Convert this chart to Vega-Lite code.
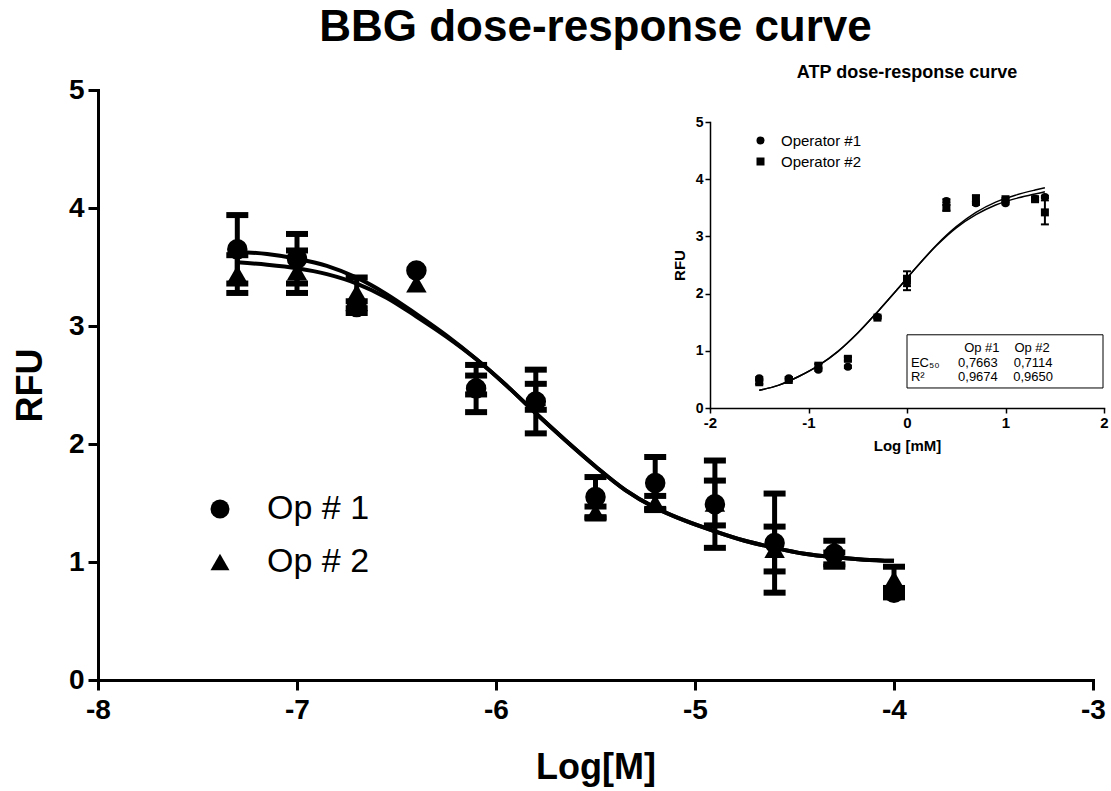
{
  "$schema": "https://vega.github.io/schema/vega-lite/v6.json",
  "width": 995,
  "height": 590,
  "autosize": {"type": "none"},
  "padding": {"left": 98, "top": 90, "right": 18, "bottom": 111},
  "background": "white",
  "title": {"text": "BBG dose-response curve", "fontSize": 44, "fontWeight": "bold", "font": "Liberation Sans", "color": "black", "anchor": "middle", "offset": 14},
  "config": {
    "font": "Liberation Sans",
    "view": {"stroke": null},
    "axis": {"grid": false, "labelFlush": false, "labelOverlap": false, "domainColor": "black", "tickColor": "black", "labelColor": "black", "titleColor": "black", "labelFont": "Liberation Sans", "titleFont": "Liberation Sans", "labelFontWeight": "bold", "titleFontWeight": "bold", "domainCap": "square", "labelExpr": "datum.value < 0 ? '-' + abs(datum.value) : '' + datum.value"},
    "legend": {"labelFont": "Liberation Sans", "labelColor": "black", "padding": 0}
  },
  "datasets": {
    "mainCurve": [
      {"x": -7.3, "y": 3.63, "op": "Op # 1"}, {"x": -7.15, "y": 3.61, "op": "Op # 1"}, {"x": -7.0, "y": 3.57, "op": "Op # 1"}, {"x": -6.85, "y": 3.51, "op": "Op # 1"}, {"x": -6.7, "y": 3.41, "op": "Op # 1"}, {"x": -6.55, "y": 3.27, "op": "Op # 1"}, {"x": -6.4, "y": 3.10, "op": "Op # 1"}, {"x": -6.25, "y": 2.92, "op": "Op # 1"}, {"x": -6.1, "y": 2.72, "op": "Op # 1"}, {"x": -5.95, "y": 2.50, "op": "Op # 1"}, {"x": -5.8, "y": 2.26, "op": "Op # 1"}, {"x": -5.65, "y": 2.03, "op": "Op # 1"}, {"x": -5.5, "y": 1.81, "op": "Op # 1"}, {"x": -5.35, "y": 1.61, "op": "Op # 1"}, {"x": -5.2, "y": 1.46, "op": "Op # 1"}, {"x": -5.05, "y": 1.35, "op": "Op # 1"}, {"x": -4.9, "y": 1.26, "op": "Op # 1"}, {"x": -4.75, "y": 1.18, "op": "Op # 1"}, {"x": -4.6, "y": 1.12, "op": "Op # 1"}, {"x": -4.45, "y": 1.07, "op": "Op # 1"}, {"x": -4.3, "y": 1.04, "op": "Op # 1"}, {"x": -4.15, "y": 1.02, "op": "Op # 1"}, {"x": -4.0, "y": 1.01, "op": "Op # 1"},
      {"x": -7.3, "y": 3.54, "op": "Op # 2"}, {"x": -7.15, "y": 3.52, "op": "Op # 2"}, {"x": -7.0, "y": 3.49, "op": "Op # 2"}, {"x": -6.85, "y": 3.44, "op": "Op # 2"}, {"x": -6.7, "y": 3.36, "op": "Op # 2"}, {"x": -6.55, "y": 3.24, "op": "Op # 2"}, {"x": -6.4, "y": 3.08, "op": "Op # 2"}, {"x": -6.25, "y": 2.91, "op": "Op # 2"}, {"x": -6.1, "y": 2.72, "op": "Op # 2"}, {"x": -5.95, "y": 2.50, "op": "Op # 2"}, {"x": -5.8, "y": 2.26, "op": "Op # 2"}, {"x": -5.65, "y": 2.03, "op": "Op # 2"}, {"x": -5.5, "y": 1.81, "op": "Op # 2"}, {"x": -5.35, "y": 1.61, "op": "Op # 2"}, {"x": -5.2, "y": 1.46, "op": "Op # 2"}, {"x": -5.05, "y": 1.35, "op": "Op # 2"}, {"x": -4.9, "y": 1.26, "op": "Op # 2"}, {"x": -4.75, "y": 1.18, "op": "Op # 2"}, {"x": -4.6, "y": 1.12, "op": "Op # 2"}, {"x": -4.45, "y": 1.07, "op": "Op # 2"}, {"x": -4.3, "y": 1.04, "op": "Op # 2"}, {"x": -4.15, "y": 1.02, "op": "Op # 2"}, {"x": -4.0, "y": 1.01, "op": "Op # 2"}
    ],
    "mainPoints": [
      {"x": -7.3, "y": 3.65, "e": 0.29, "op": "Op # 1"}, {"x": -7.0, "y": 3.57, "e": 0.21, "op": "Op # 1"}, {"x": -6.7, "y": 3.16, "e": 0.05, "op": "Op # 1"}, {"x": -6.4, "y": 3.47, "e": 0, "op": "Op # 1"}, {"x": -6.1, "y": 2.47, "e": 0.20, "op": "Op # 1"}, {"x": -5.8, "y": 2.36, "e": 0.27, "op": "Op # 1"}, {"x": -5.5, "y": 1.55, "e": 0.17, "op": "Op # 1"}, {"x": -5.2, "y": 1.67, "e": 0.22, "op": "Op # 1"}, {"x": -4.9, "y": 1.49, "e": 0.37, "op": "Op # 1"}, {"x": -4.6, "y": 1.16, "e": 0.42, "op": "Op # 1"}, {"x": -4.3, "y": 1.07, "e": 0.11, "op": "Op # 1"}, {"x": -4.0, "y": 0.74, "e": 0.04, "op": "Op # 1"},
      {"x": -7.3, "y": 3.44, "e": 0.16, "op": "Op # 2"}, {"x": -7.0, "y": 3.46, "e": 0.18, "op": "Op # 2"}, {"x": -6.7, "y": 3.28, "e": 0.13, "op": "Op # 2"}, {"x": -6.4, "y": 3.36, "e": 0, "op": "Op # 2"}, {"x": -6.1, "y": 2.50, "e": 0.08, "op": "Op # 2"}, {"x": -5.8, "y": 2.40, "e": 0.11, "op": "Op # 2"}, {"x": -5.5, "y": 1.42, "e": 0.05, "op": "Op # 2"}, {"x": -5.2, "y": 1.50, "e": 0.06, "op": "Op # 2"}, {"x": -4.9, "y": 1.50, "e": 0.19, "op": "Op # 2"}, {"x": -4.6, "y": 1.11, "e": 0.19, "op": "Op # 2"}, {"x": -4.3, "y": 1.03, "e": 0.05, "op": "Op # 2"}, {"x": -4.0, "y": 0.85, "e": 0.11, "op": "Op # 2"}
    ],
    "insetCurve": [
      {"x": -1.5, "y": 0.31, "op": "A"}, {"x": -1.3, "y": 0.40, "op": "A"}, {"x": -1.1, "y": 0.55, "op": "A"}, {"x": -0.9, "y": 0.74, "op": "A"}, {"x": -0.7, "y": 0.99, "op": "A"}, {"x": -0.5, "y": 1.31, "op": "A"}, {"x": -0.3, "y": 1.68, "op": "A"}, {"x": -0.1, "y": 2.07, "op": "A"}, {"x": 0.1, "y": 2.47, "op": "A"}, {"x": 0.3, "y": 2.85, "op": "A"}, {"x": 0.5, "y": 3.17, "op": "A"}, {"x": 0.7, "y": 3.42, "op": "A"}, {"x": 0.9, "y": 3.60, "op": "A"}, {"x": 1.1, "y": 3.72, "op": "A"}, {"x": 1.3, "y": 3.81, "op": "A"}, {"x": 1.4, "y": 3.85, "op": "A"},
      {"x": -1.5, "y": 0.31, "op": "B"}, {"x": -1.3, "y": 0.40, "op": "B"}, {"x": -1.1, "y": 0.55, "op": "B"}, {"x": -0.9, "y": 0.74, "op": "B"}, {"x": -0.7, "y": 0.99, "op": "B"}, {"x": -0.5, "y": 1.31, "op": "B"}, {"x": -0.3, "y": 1.68, "op": "B"}, {"x": -0.1, "y": 2.07, "op": "B"}, {"x": 0.1, "y": 2.47, "op": "B"}, {"x": 0.3, "y": 2.84, "op": "B"}, {"x": 0.5, "y": 3.15, "op": "B"}, {"x": 0.7, "y": 3.38, "op": "B"}, {"x": 0.9, "y": 3.55, "op": "B"}, {"x": 1.1, "y": 3.66, "op": "B"}, {"x": 1.3, "y": 3.74, "op": "B"}, {"x": 1.4, "y": 3.78, "op": "B"}
    ],
    "insetPoints": [
      {"x": -1.5, "y": 0.52, "e": 0.02, "op": "Operator #1"}, {"x": -1.2, "y": 0.52, "e": 0.02, "op": "Operator #1"}, {"x": -0.9, "y": 0.67, "e": 0.02, "op": "Operator #1"}, {"x": -0.6, "y": 0.72, "e": 0.02, "op": "Operator #1"}, {"x": -0.3, "y": 1.59, "e": 0.02, "op": "Operator #1"}, {"x": 0.0, "y": 2.18, "e": 0.12, "op": "Operator #1"}, {"x": 0.4, "y": 3.62, "e": 0.03, "op": "Operator #1"}, {"x": 0.7, "y": 3.58, "e": 0.03, "op": "Operator #1"}, {"x": 1.0, "y": 3.58, "e": 0.02, "op": "Operator #1"}, {"x": 1.3, "y": 3.66, "e": 0.02, "op": "Operator #1"}, {"x": 1.4, "y": 3.69, "e": 0.02, "op": "Operator #1"},
      {"x": -1.5, "y": 0.45, "e": 0.03, "op": "Operator #2"}, {"x": -1.2, "y": 0.49, "e": 0.02, "op": "Operator #2"}, {"x": -0.9, "y": 0.74, "e": 0.03, "op": "Operator #2"}, {"x": -0.6, "y": 0.86, "e": 0.03, "op": "Operator #2"}, {"x": -0.3, "y": 1.58, "e": 0.02, "op": "Operator #2"}, {"x": 0.0, "y": 2.26, "e": 0.13, "op": "Operator #2"}, {"x": 0.4, "y": 3.50, "e": 0.05, "op": "Operator #2"}, {"x": 0.7, "y": 3.66, "e": 0.06, "op": "Operator #2"}, {"x": 1.0, "y": 3.65, "e": 0.02, "op": "Operator #2"}, {"x": 1.3, "y": 3.65, "e": 0.03, "op": "Operator #2"}, {"x": 1.4, "y": 3.42, "e": 0.21, "op": "Operator #2"}
    ],
    "insetTable": [
      {"x": 0.76, "y": 1.05, "t": "Op #1", "a": "center"}, {"x": 1.27, "y": 1.05, "t": "Op #2", "a": "center"},
      {"x": 0.04, "y": 0.79, "t": "EC₅₀", "a": "left"}, {"x": 0.72, "y": 0.79, "t": "0,7663", "a": "center"}, {"x": 1.28, "y": 0.79, "t": "0,7114", "a": "center"},
      {"x": 0.04, "y": 0.54, "t": "R²", "a": "left"}, {"x": 0.72, "y": 0.54, "t": "0,9674", "a": "center"}, {"x": 1.28, "y": 0.54, "t": "0,9650", "a": "center"}
    ],
    "insetBox": [{"x": 0.0, "x2": 1.99, "y": 0.35, "y2": 1.28}],
    "insetTitle": [{"x": 0.0, "y": 5.86, "t": "ATP dose-response curve"}]
  },
  "layer": [
    {
      "layer": [
        {
          "data": {"name": "mainCurve"},
          "mark": {"type": "line", "color": "black", "strokeWidth": 4, "interpolate": "monotone"},
          "encoding": {
            "x": {"field": "x", "type": "quantitative", "title": "Log[M]", "scale": {"domain": [-8, -3], "nice": false, "zero": false},
              "axis": {"orient": "bottom", "values": [-8, -7, -6, -5, -4, -3], "tickSize": 10, "tickWidth": 3, "domainWidth": 3, "labelFontSize": 28, "labelPadding": 6, "title": "Log[M]", "titleFontSize": 36, "titlePadding": 26}},
            "y": {"field": "y", "type": "quantitative", "title": "RFU", "scale": {"domain": [0, 5], "nice": false, "zero": false},
              "axis": {"orient": "left", "values": [0, 1, 2, 3, 4, 5], "tickSize": 10, "tickWidth": 3, "domainWidth": 3, "labelFontSize": 28, "labelPadding": 4, "title": "RFU", "titleFontSize": 36, "titlePadding": 19}},
            "detail": {"field": "op"}
          }
        },
        {
          "data": {"name": "mainPoints"},
          "transform": [{"filter": "datum.e > 0"}],
          "mark": {"type": "errorbar", "color": "black", "opacity": 1, "ticks": {"size": 22, "thickness": 6, "color": "black", "opacity": 1}, "rule": {"strokeWidth": 5, "color": "black", "opacity": 1}},
          "encoding": {
            "x": {"field": "x", "type": "quantitative", "title": "Log[M]"},
            "y": {"field": "y", "type": "quantitative", "title": "RFU"},
            "yError": {"field": "e"},
            "detail": {"field": "op"}
          }
        },
        {
          "data": {"name": "mainPoints"},
          "mark": {"type": "point", "filled": true, "opacity": 1, "color": "black", "size": 420},
          "encoding": {
            "x": {"field": "x", "type": "quantitative", "title": "Log[M]"},
            "y": {"field": "y", "type": "quantitative", "title": "RFU"},
            "shape": {"field": "op", "type": "nominal", "scale": {"domain": ["Op # 1", "Op # 2"], "range": ["circle", "triangle-up"]},
              "legend": {"orient": "none", "legendX": 105, "legendY": 402, "title": null, "labelFontSize": 34, "symbolSize": 360, "symbolFillColor": "black", "symbolStrokeColor": "black", "symbolStrokeWidth": 0, "labelOffset": 30, "rowPadding": 19}}
          }
        }
      ]
    },
    {
      "layer": [
        {
          "data": {"name": "insetBox"},
          "mark": {"type": "rect", "fill": null, "stroke": "black", "strokeWidth": 1},
          "encoding": {
            "x": {"field": "x", "type": "quantitative", "title": "Log [mM]", "scale": {"domain": [-2, 2], "range": [612, 1006], "nice": false, "zero": false},
              "axis": {"orient": "bottom", "offset": -272, "values": [-2, -1, 0, 1, 2], "tickSize": 5, "tickWidth": 1.5, "domainWidth": 1.5, "labelFontSize": 15, "labelPadding": 2, "title": "Log [mM]", "titleFontSize": 15, "titlePadding": 8}},
            "x2": {"field": "x2"},
            "y": {"field": "y", "type": "quantitative", "title": "RFU", "scale": {"domain": [0, 5], "range": [318, 32], "nice": false, "zero": false},
              "axis": {"orient": "left", "offset": -612, "values": [0, 1, 2, 3, 4, 5], "tickSize": 5, "tickWidth": 1.5, "domainWidth": 1.5, "labelFontSize": 14, "labelPadding": 2, "title": "RFU", "titleFontSize": 15, "titlePadding": 8}},
            "y2": {"field": "y2"}
          }
        },
        {
          "data": {"name": "insetCurve"},
          "mark": {"type": "line", "color": "black", "strokeWidth": 1.5, "interpolate": "monotone"},
          "encoding": {
            "x": {"field": "x", "type": "quantitative", "title": "Log [mM]"},
            "y": {"field": "y", "type": "quantitative", "title": "RFU"},
            "detail": {"field": "op"}
          }
        },
        {
          "data": {"name": "insetPoints"},
          "mark": {"type": "errorbar", "color": "black", "opacity": 1, "ticks": {"size": 8, "thickness": 2, "color": "black", "opacity": 1}, "rule": {"strokeWidth": 2, "color": "black", "opacity": 1}},
          "encoding": {
            "x": {"field": "x", "type": "quantitative", "title": "Log [mM]"},
            "y": {"field": "y", "type": "quantitative", "title": "RFU"},
            "yError": {"field": "e"},
            "detail": {"field": "op"}
          }
        },
        {
          "data": {"name": "insetPoints"},
          "mark": {"type": "point", "filled": true, "opacity": 1, "color": "black", "size": 64},
          "encoding": {
            "x": {"field": "x", "type": "quantitative", "title": "Log [mM]"},
            "y": {"field": "y", "type": "quantitative", "title": "RFU"},
            "shape": {"field": "op", "type": "nominal", "scale": {"domain": ["Operator #1", "Operator #2"], "range": ["circle", "square"]},
              "legend": {"orient": "none", "legendX": 655, "legendY": 43, "title": null, "labelFontSize": 15, "symbolSize": 64, "symbolFillColor": "black", "symbolStrokeColor": "black", "symbolStrokeWidth": 0, "labelOffset": 13, "rowPadding": 5}}
          }
        },
        {
          "data": {"name": "insetTable"},
          "transform": [{"filter": "datum.a == 'center'"}],
          "mark": {"type": "text", "fontSize": 13, "color": "black", "baseline": "middle", "align": "center"},
          "encoding": {
            "x": {"field": "x", "type": "quantitative", "title": "Log [mM]"},
            "y": {"field": "y", "type": "quantitative", "title": "RFU"},
            "text": {"field": "t"}
          }
        },
        {
          "data": {"name": "insetTable"},
          "transform": [{"filter": "datum.a == 'left'"}],
          "mark": {"type": "text", "fontSize": 13, "color": "black", "baseline": "middle", "align": "left"},
          "encoding": {
            "x": {"field": "x", "type": "quantitative", "title": "Log [mM]"},
            "y": {"field": "y", "type": "quantitative", "title": "RFU"},
            "text": {"field": "t"}
          }
        },
        {
          "data": {"name": "insetTitle"},
          "mark": {"type": "text", "fontSize": 18, "fontWeight": "bold", "color": "black", "baseline": "middle", "align": "center"},
          "encoding": {
            "x": {"field": "x", "type": "quantitative", "title": "Log [mM]"},
            "y": {"field": "y", "type": "quantitative", "title": "RFU"},
            "text": {"field": "t"}
          }
        }
      ]
    }
  ],
  "resolve": {"scale": {"x": "independent", "y": "independent", "shape": "independent"}, "axis": {"x": "independent", "y": "independent"}, "legend": {"shape": "independent"}}
}
